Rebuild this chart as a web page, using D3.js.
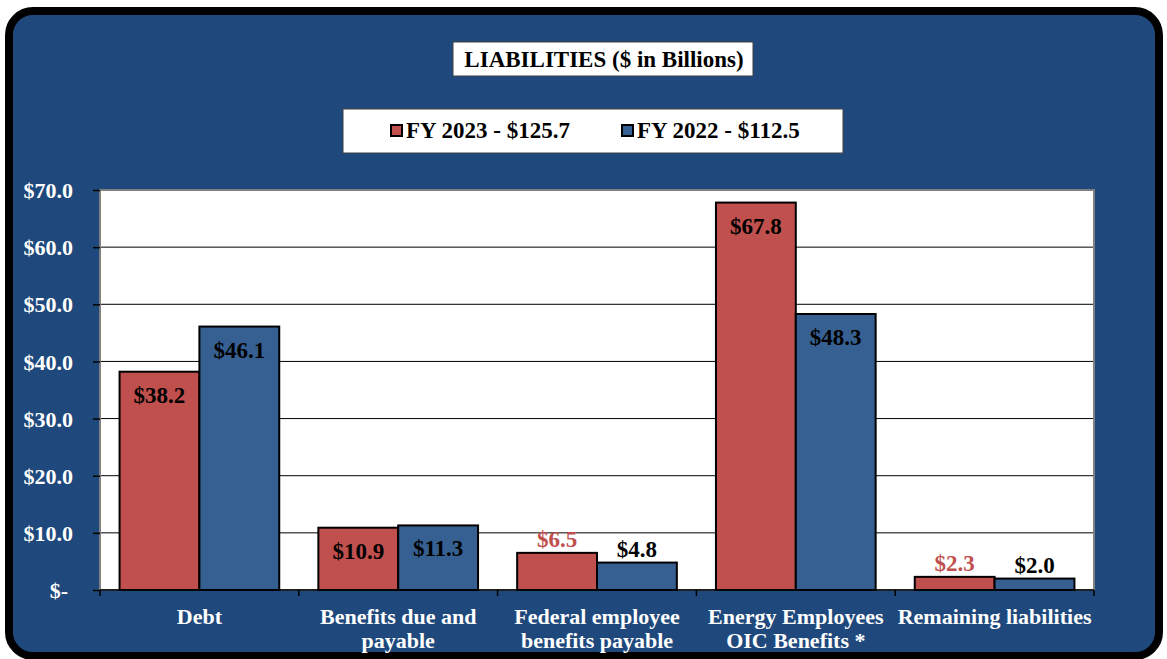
<!DOCTYPE html>
<html>
<head>
<meta charset="utf-8">
<script src="https://cdn.jsdelivr.net/npm/d3@7"></script>
<style>
  html, body { margin: 0; padding: 0; background: #ffffff; }
  svg { display: block; }
  text { font-family: "Liberation Serif", "Times New Roman", serif; font-weight: bold; }
</style>
</head>
<body>
<svg id="chart" width="1167" height="659"></svg>
<script>
// Liabilities by category, $ in billions
const categories = [
  ["Debt"],
  ["Benefits due and", "payable"],
  ["Federal employee", "benefits payable"],
  ["Energy Employees", "OIC Benefits *"],
  ["Remaining liabilities"]
];
const seriesNames = ["FY 2023 - $125.7", "FY 2022 - $112.5"];
const fy2023 = [38.2, 10.9, 6.5, 67.8, 2.3];
const fy2022 = [46.1, 11.3, 4.8, 48.3, 2.0];
const yTicks = [0, 10, 20, 30, 40, 50, 60, 70];
const titleText = "LIABILITIES ($ in Billions)";

const colors = ["#C0504D", "#376092"];
const series = [fy2023, fy2022];

const svg = d3.select("#chart");

// Outer rounded panel
svg.append("rect")
  .attr("x", 9).attr("y", 11)
  .attr("width", 1150).attr("height", 645)
  .attr("rx", 24).attr("ry", 24)
  .attr("fill", "#1F497D")
  .attr("stroke", "#000").attr("stroke-width", 8);

const plot = { left: 100, right: 1094, top: 190, bottom: 590 };

const x = d3.scaleBand()
  .domain(d3.range(categories.length))
  .range([plot.left, plot.right])
  .padding(0);

const xs = d3.scaleBand()
  .domain(d3.range(series.length))
  .range([0, x.bandwidth()])
  .paddingInner(0)
  .paddingOuter(0.245);

const y = d3.scaleLinear().domain([0, 70]).range([plot.bottom, plot.top]);

// Plot background
svg.append("rect")
  .attr("x", plot.left).attr("y", plot.top)
  .attr("width", plot.right - plot.left).attr("height", plot.bottom - plot.top)
  .attr("fill", "#fff");

// Gridlines
svg.append("g").selectAll("line")
  .data(yTicks.filter(t => t > 0 && t < 70))
  .join("line")
  .attr("x1", plot.left).attr("x2", plot.right)
  .attr("y1", d => y(d)).attr("y2", d => y(d))
  .attr("stroke", "#000").attr("stroke-width", 1);

// Plot border
svg.append("rect")
  .attr("x", plot.left).attr("y", plot.top)
  .attr("width", plot.right - plot.left).attr("height", plot.bottom - plot.top)
  .attr("fill", "none").attr("stroke", "#808080").attr("stroke-width", 2);

// Y axis
const yAxis = d3.axisLeft(y)
  .tickValues(yTicks)
  .tickSize(7)
  .tickPadding(20)
  .tickFormat(d => d === 0 ? "$-" : "$" + d3.format(".1f")(d));
const yg = svg.append("g")
  .attr("transform", `translate(${plot.left},0)`)
  .call(yAxis);
yg.select(".domain").remove();
yg.selectAll(".tick line").attr("stroke", "#000").attr("stroke-width", 1.5);
yg.selectAll(".tick text")
  .attr("fill", "#fff")
  .attr("font-size", 22)
  .attr("dy", "0.35em")
  .attr("dx", d => d === 0 ? -5 : 0);

// X axis with tick marks on category boundaries
const boundaries = d3.range(categories.length + 1).map(i =>
  i < categories.length ? x(i) : x(i - 1) + x.bandwidth());
svg.append("line")
  .attr("x1", plot.left).attr("x2", plot.right)
  .attr("y1", plot.bottom).attr("y2", plot.bottom)
  .attr("stroke", "#000").attr("stroke-width", 1.5);
svg.append("g").selectAll("line")
  .data(boundaries)
  .join("line")
  .attr("x1", d => d).attr("x2", d => d)
  .attr("y1", plot.bottom).attr("y2", plot.bottom + 6)
  .attr("stroke", "#000").attr("stroke-width", 1.5);

// Category labels
const catLabels = svg.append("g").selectAll("text")
  .data(categories)
  .join("text")
  .attr("x", (d, i) => x(i) + x.bandwidth() / 2)
  .attr("y", 624)
  .attr("text-anchor", "middle")
  .attr("fill", "#fff")
  .attr("font-size", 22);
catLabels.selectAll("tspan")
  .data(d => d)
  .join("tspan")
  .attr("x", function () { return d3.select(this.parentNode).attr("x"); })
  .attr("dy", (d, i) => i === 0 ? 0 : 24)
  .text(d => d);

// Bars
const barData = [];
categories.forEach((c, i) => {
  series.forEach((s, j) => barData.push({ cat: i, ser: j, value: s[i] }));
});

svg.append("g").selectAll("rect")
  .data(barData)
  .join("rect")
  .attr("x", d => x(d.cat) + xs(d.ser))
  .attr("y", d => y(d.value))
  .attr("width", xs.bandwidth())
  .attr("height", d => y(0) - y(d.value))
  .attr("fill", d => colors[d.ser])
  .attr("stroke", "#000").attr("stroke-width", 2);

// Value labels: inside the bar top when there is room, above it otherwise
const insideMin = 9;
svg.append("g").selectAll("text")
  .data(barData)
  .join("text")
  .attr("x", d => x(d.cat) + xs(d.ser) + xs.bandwidth() / 2)
  .attr("y", d => d.value >= insideMin ? y(d.value) + 31 : y(d.value) - 6)
  .attr("text-anchor", "middle")
  .attr("font-size", 23)
  .attr("fill", d => (d.value < insideMin && d.ser === 0) ? colors[0] : "#000")
  .text(d => "$" + d3.format(".1f")(d.value));

// Title box
const title = svg.append("g");
title.append("rect")
  .attr("x", 453).attr("y", 42).attr("width", 300).attr("height", 34)
  .attr("fill", "#fff").attr("stroke", "#404040").attr("stroke-width", 1);
title.append("text")
  .attr("x", 604).attr("y", 67)
  .attr("text-anchor", "middle")
  .attr("font-size", 23)
  .attr("fill", "#000")
  .text(titleText);

// Legend box
const legend = svg.append("g");
legend.append("rect")
  .attr("x", 343).attr("y", 109).attr("width", 500).attr("height", 44)
  .attr("fill", "#fff").attr("stroke", "#404040").attr("stroke-width", 1);
const legendX = [391, 622];
const items = legend.selectAll("g.item")
  .data(seriesNames)
  .join("g").attr("class", "item")
  .attr("transform", (d, i) => `translate(${legendX[i]},0)`);
items.append("rect")
  .attr("x", 0).attr("y", 125).attr("width", 11).attr("height", 11)
  .attr("fill", (d, i) => colors[i])
  .attr("stroke", "#000").attr("stroke-width", 2);
items.append("text")
  .attr("x", 15).attr("y", 138)
  .attr("font-size", 23)
  .attr("fill", "#000")
  .text(d => d);
</script>
</body>
</html>
